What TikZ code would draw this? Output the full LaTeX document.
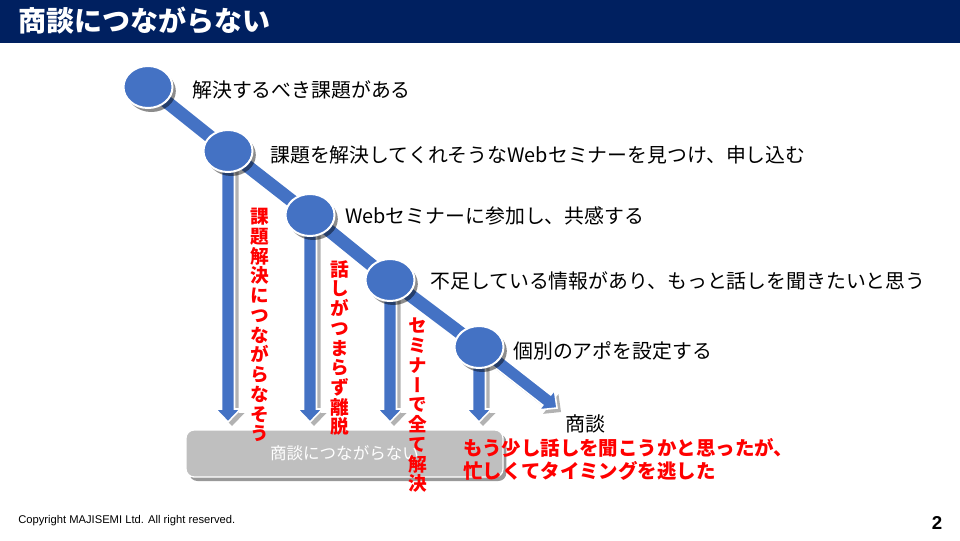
\documentclass[tikz,border=0pt]{standalone}
\usepackage{fontspec}
\newfontfamily\jp{Noto Sans CJK JP}
\newfontfamily\jpv[RawFeature=+vert]{Noto Sans CJK JP}
\newfontfamily\lsans{Liberation Sans}
\usetikzlibrary{calc,shapes.geometric,shadows}
\pgfdeclarelayer{bg}
\pgfsetlayers{bg,main}
\definecolor{navy}{HTML}{002060}
\definecolor{pblue}{HTML}{4472C4}
\definecolor{pgray}{HTML}{BFBFBF}
\definecolor{pred}{HTML}{FF0000}
% block arrow: from #1 to tip #2, base coordinate #2b must exist
\newcommand\arrowpath[2]{($(#1)!4.875pt!90:(#2)$) -- ($(#2b)!4.875pt!90:(#2)$) -- ($(#2b)!9.375pt!90:(#2)$) -- (#2) -- ($(#2b)!9.375pt!-90:(#2)$) -- ($(#2b)!4.875pt!-90:(#2)$) -- ($(#1)!4.875pt!-90:(#2)$) -- cycle}
\begin{document}
\begin{tikzpicture}[x=0.75pt,y=-0.75pt,
  circ/.style={ellipse, fill=pblue, draw=white, line width=1.5pt, minimum width=36.75pt, minimum height=31.5pt, inner sep=0pt,
    drop shadow={shadow xshift=2.5pt, shadow yshift=-3pt, opacity=0.45, fill=black}},
  barrow/.style={fill=pblue, draw=white, line width=1.2pt, line join=miter},
  bshadow/.style={fill=black, opacity=0.3, transform canvas={xshift=3pt, yshift=-3pt}},
  dlinew/.style={draw=white, line width=12.15pt, line join=round},
  dline/.style={draw=pblue, line width=9.75pt, line join=round},
  dshadow/.style={draw=black, opacity=0.3, line width=9.75pt, line join=round, transform canvas={xshift=3pt, yshift=-3pt}},
  btxt/.style={anchor=west, inner sep=0pt, font=\jp\fontsize{14.9}{17}\selectfont},
  rtxt/.style={anchor=west, inner sep=0pt, align=left, text=pred, font=\jp\bfseries\fontsize{14.6}{17.25}\selectfont},
  vred/.style={anchor=north, inner sep=0pt, align=center, text=pred, font=\jpv\bfseries\fontsize{14}{14.8}\selectfont},
  gbox/.style={rectangle, rounded corners=6pt, fill=pgray, draw=white, line width=1pt, minimum width=237.75pt, minimum height=35.25pt,
    text=white, font=\jp\fontsize{12.4}{14}\selectfont,
    drop shadow={shadow xshift=2.5pt, shadow yshift=-3pt, opacity=0.4, fill=black}}
]
\useasboundingbox (0,0) rectangle (960,540);
% header
\fill[navy] (0,0) rectangle (960,43);
\node[anchor=west, inner sep=0pt, text=white, font=\jp\bfseries\fontsize{21}{25}\selectfont] (title) at (18,21) {商談につながらない};

% circles
\node[circ] (c1) at (148,87) {};
\node[circ] (c2) at (228,151) {};
\node[circ] (c3) at (310,215) {};
\node[circ] (c4) at (390,280) {};
\node[circ] (c5) at (479,347) {};

% arrow tips
\coordinate (tp) at (0,422);
\coordinate (t1) at (c2.center |- tp);
\coordinate (t2) at (c3.center |- tp);
\coordinate (t3) at (c4.center |- tp);
\coordinate (t4) at (c5.center |- tp);
\coordinate (tip) at (557,408);
\coordinate (t1b) at ($(t1)!9.75pt!(c2.center)$);
\coordinate (t2b) at ($(t2)!9.75pt!(c3.center)$);
\coordinate (t3b) at ($(t3)!9.75pt!(c4.center)$);
\coordinate (t4b) at ($(t4)!9.75pt!(c5.center)$);
\coordinate (tipb) at ($(tip)!9.75pt!(c5.center)$);

\begin{pgfonlayer}{bg}
  \node[gbox] (box) at (344.5,453.5) {商談につながらない\hspace{9pt}};
  % shadows
  \fill[bshadow] \arrowpath{c2.center}{t1};
  \fill[bshadow] \arrowpath{c3.center}{t2};
  \fill[bshadow] \arrowpath{c4.center}{t3};
  \fill[bshadow] \arrowpath{c5.center}{t4};
  \draw[dshadow] (c1.center) -- (c2.center) -- (c3.center) -- (c4.center) -- (c5.center);
  \fill[bshadow] \arrowpath{c5.center}{tip};
  % vertical arrows
  \draw[barrow] \arrowpath{c2.center}{t1};
  \draw[barrow] \arrowpath{c3.center}{t2};
  \draw[barrow] \arrowpath{c4.center}{t3};
  \draw[barrow] \arrowpath{c5.center}{t4};
  % diagonal path
  \draw[dlinew] (c1.center) -- (c2.center) -- (c3.center) -- (c4.center) -- (c5.center);
  \draw[barrow] \arrowpath{c5.center}{tip};
  \draw[dline] (c1.center) -- (c2.center) -- (c3.center) -- (c4.center) -- (c5.center);
\end{pgfonlayer}

% step texts
\node[btxt] (s1) at (192,90) {解決するべき課題がある};
\node[btxt] (s2) at (270,155) {課題を解決してくれそうなWebセミナーを見つけ、申し込む};
\node[btxt] (s3) at (345,216) {Webセミナーに参加し、共感する};
\node[btxt] (s4) at (430,281) {不足している情報があり、もっと話しを聞きたいと思う};
\node[btxt] (s5) at (513,351) {個別のアポを設定する};
\node[inner sep=0pt, font=\jp\fontsize{15}{17}\selectfont] (deal) at (585,424) {商談};

% red texts
\node[vred] (v1) at (260,208) {課\\題\\解\\決\\に\\つ\\な\\が\\ら\\な\\そ\\う};
\node[vred] (v2) at (340,260) {話\\し\\が\\つ\\ま\\ら\\ず\\離\\脱};
\node[vred] (v3) at (418,318) {セ\\ミ\\ナ\\ー\\で\\全\\て\\解\\決};
\node[rtxt] (r1) at (463,459.5) {もう少し話しを聞こうかと思ったが、\\忙しくてタイミングを逃した};

% footer
\node[anchor=west, inner sep=0pt, font=\lsans\fontsize{8.4}{10}\selectfont] (copy) at (18,521) {Copyright MAJISEMI Ltd. All right reserved.};
\node[inner sep=0pt, font=\lsans\bfseries\fontsize{14}{16}\selectfont] (pg) at (937,523) {2};
\end{tikzpicture}
\end{document}
